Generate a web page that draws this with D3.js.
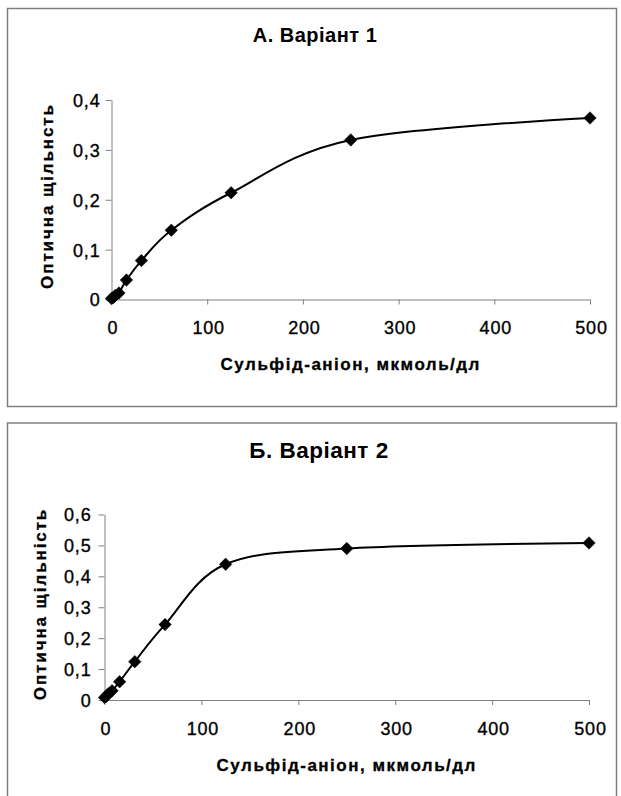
<!DOCTYPE html>
<html>
<head>
<meta charset="utf-8">
<script src="https://cdn.jsdelivr.net/npm/d3@7"></script>
<style>
	body { margin: 0; background: #fff; }
	svg text { font-family: "Liberation Sans", Arial, sans-serif; fill: #000; }
	.tick text { font-size: 18px; letter-spacing: 0.8px; stroke: #000; stroke-width: 0.35px; }
	.chart-title { font-weight: bold; letter-spacing: 0.5px; }
	.axis-title { font-size: 17px; font-weight: bold; letter-spacing: 1.5px; stroke: #000; stroke-width: 0.3px; }
	.y-title { letter-spacing: 1.9px; }
</style>
</head>
<body>
<div id="chart"></div>
<script>

//Concentrations of the calibration standards (serial dilution)
var conc = [0, 1.95, 3.9, 7.8, 15.6, 31.25, 62.5, 125, 250, 500];
//Optical density, variant 1 and variant 2
var odVariant1 = [0.002, 0.004, 0.008, 0.013, 0.039, 0.078, 0.139, 0.214, 0.320, 0.364];
var odVariant2 = [0.008, 0.012, 0.020, 0.030, 0.059, 0.124, 0.244, 0.439, 0.490, 0.508];

var xTicks = [0, 100, 200, 300, 400, 500];
var yTicks1 = [0, 0.1, 0.2, 0.3, 0.4];
var yTicks2 = [0, 0.1, 0.2, 0.3, 0.4, 0.5, 0.6];

var titles = ["А. Варіант 1", "Б. Варіант 2"];
var yTitles = ["Оптична щільнсть", "Оптична щільність"];
var xTitle = "Сульфід-аніон, мкмоль/дл";

var width = 621,
	height = 796;

var svg = d3.select("#chart")
	.append("svg")
	.attr("width", width)
	.attr("height", height);

//comma as decimal separator
var fmt = function(d) { return String(d).replace(".", ","); };

///////////////////////////////////////////////////////////////////////////
///////////////////////////// Draw the panels /////////////////////////////
///////////////////////////////////////////////////////////////////////////

drawPanel({
	frame: [7.5, 8.5, 609, 398],
	x0: 111.5, x1: 590,
	y0: 299.5, y1: 100,
	yTicks: yTicks1,
	values: odVariant1,
	title: titles[0], titleY: 41.5, titleX: 315, titleSize: 20,
	yTitle: yTitles[0], yTitleX: 53, yTitleY: 196,
	xTitleY: 370,
	xLabelY: 334,
	yLabelGap: 12
});

drawPanel({
	frame: [7.5, 423, 609, 400],
	x0: 104.5, x1: 589,
	y0: 700, y1: 514.5,
	yTicks: yTicks2,
	values: odVariant2,
	title: titles[1], titleY: 458, titleX: 319, titleSize: 22.5,
	yTitle: yTitles[1], yTitleX: 46, yTitleY: 604,
	xTitleY: 770.5,
	xLabelY: 735,
	yLabelGap: 14
});

function drawPanel(p) {

	var g = svg.append("g");

	//Outer frame
	g.append("rect")
		.attr("x", p.frame[0])
		.attr("y", p.frame[1])
		.attr("width", p.frame[2])
		.attr("height", p.frame[3])
		.style("fill", "none")
		.style("stroke", "#808080")
		.style("stroke-width", 1.5);

	var x = d3.scaleLinear().domain([0, 500]).range([p.x0, p.x1]);
	var y = d3.scaleLinear().domain([0, d3.max(p.yTicks)]).range([p.y0, p.y1]);

	//X axis
	var xAxis = g.append("g")
		.attr("transform", "translate(0," + p.y0 + ")")
		.call(d3.axisBottom(x).tickValues(xTicks).tickFormat(fmt).tickSize(5).tickSizeOuter(0));
	xAxis.selectAll("text")
		.attr("y", null)
		.attr("dy", null)
		.attr("transform", "translate(1," + (p.xLabelY - p.y0) + ")");

	//Y axis
	var yAxis = g.append("g")
		.attr("transform", "translate(" + p.x0 + ",0)")
		.call(d3.axisLeft(y).tickValues(p.yTicks).tickFormat(fmt).tickSize(6).tickSizeOuter(0));
	yAxis.selectAll("text")
		.attr("x", -p.yLabelGap + 1)
		.attr("dy", "0.36em");

	g.selectAll(".domain, .tick line")
		.style("stroke", "#808080")
		.style("stroke-width", 1);

	//Smoothed line (Excel style)
	var pts = conc.map(function(c, i) { return [c, p.values[i]]; });
	var line = d3.line()
		.x(function(d) { return x(d[0]); })
		.y(function(d) { return y(d[1]); })
		.curve(d3.curveCardinal.tension(0));

	g.append("path")
		.datum(pts)
		.attr("d", line)
		.style("fill", "none")
		.style("stroke", "#000")
		.style("stroke-width", 2);

	//Diamond markers
	g.selectAll(".marker")
		.data(pts)
		.enter().append("path")
		.attr("class", "marker")
		.attr("d", d3.symbol().type(d3.symbolSquare).size(78))
		.attr("transform", function(d) { return "translate(" + x(d[0]) + "," + y(d[1]) + ") rotate(45)"; })
		.style("fill", "#000")
		.style("stroke", "#000")
		.style("stroke-width", 0.5);

	//Titles
	g.append("text")
		.attr("class", "chart-title")
		.attr("x", p.titleX)
		.attr("y", p.titleY)
		.style("text-anchor", "middle")
		.style("font-size", p.titleSize + "px")
		.text(p.title);

	g.append("text")
		.attr("class", "axis-title")
		.attr("x", (p.x0 + p.x1) / 2)
		.attr("y", p.xTitleY)
		.style("text-anchor", "middle")
		.text(xTitle);

	g.append("text")
		.attr("class", "axis-title y-title")
		.attr("transform", "translate(" + p.yTitleX + "," + p.yTitleY + ") rotate(-90)")
		.style("text-anchor", "middle")
		.text(p.yTitle);

}//drawPanel

</script>
</body>
</html>
